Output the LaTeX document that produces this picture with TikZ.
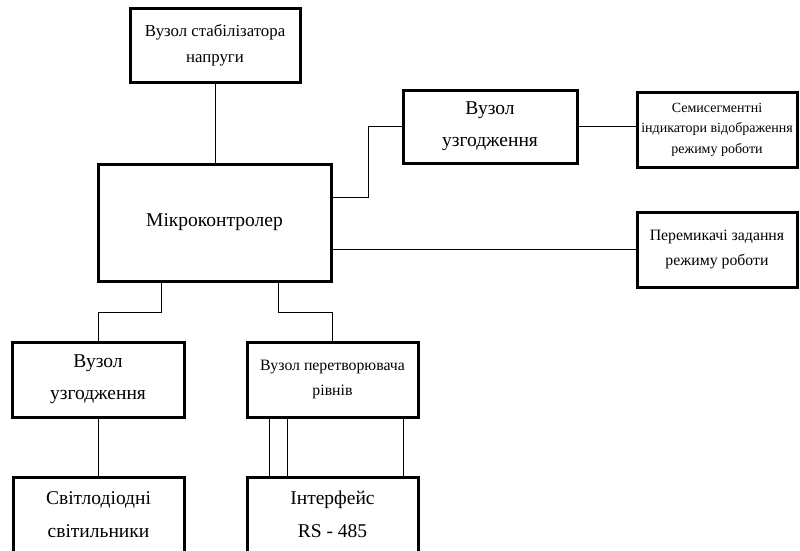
\documentclass[tikz,border=0pt]{standalone}
\usepackage{fontspec}
\setmainfont{Liberation Serif}
\usepackage{tikz}

\tikzset{
  blok/.style={draw, line width=3pt, align=center, inner sep=0pt},
  zv/.style={line width=0.9pt}
}

\begin{document}
\begin{tikzpicture}[x=1pt, y=-1pt]
        \clip (0,0) rectangle (800,550);
        \fill[white] (0,0) rectangle (800,550);

        \node [blok, minimum width=170, minimum height=74, font=\fontsize{16.8}{26}\selectfont] (stab) at (215,45) {Вузол стабілізатора\\напруги};
        \node [blok, minimum width=233, minimum height=117, font=\fontsize{19.5}{22}\selectfont] (micro) at (214.5,222.5) {Мікроконтролер};
        \node [blok, minimum width=174, minimum height=73, font=\fontsize{19.5}{32}\selectfont] (uzgR) at (490,126.5) {Вузол\\узгодження};
        \node [blok, minimum width=160, minimum height=75, font=\fontsize{14}{20.5}\selectfont] (semi) at (717,129.5) {Семисегментні\\індикатори відображення\\режиму роботи};
        \node [blok, minimum width=160, minimum height=75, font=\fontsize{15.8}{25}\selectfont] (perem) at (717,249.5) {Перемикачі задання\\режиму роботи};
        \node [blok, minimum width=172, minimum height=75, font=\fontsize{19.5}{32}\selectfont] (uzgL) at (98,379.5) {Вузол\\узгодження};
        \node [blok, minimum width=171, minimum height=75, font=\fontsize{15.8}{25}\selectfont] (peretv) at (332.5,379.5) {Вузол перетворювача\\рівнів};
        \node [blok, minimum width=171, minimum height=75, font=\fontsize{19.5}{33}\selectfont] (svitlo) at (98.5,514.5) {Світлодіодні\\світильники};
        \node [blok, minimum width=171, minimum height=75, font=\fontsize{19.5}{33}\selectfont] (iface) at (332.5,514.5) {Інтерфейс\\RS - 485};

        \coordinate (j1) at (368,197);
        \coordinate (j2) at (161,312);
        \coordinate (j3) at (278,312);

        \draw [zv] (stab.south) -- (stab.south |- micro.north);
        \draw [zv] (j1 -| micro.east) -- (j1) |- (uzgR.west);
        \draw [zv] (uzgR.east) -- (uzgR.east -| semi.west);
        \draw [zv] (micro.east |- perem.west) -- (perem.west);
        \draw [zv] (j2 |- micro.south) -- (j2) -| (uzgL.north);
        \draw [zv] (j3 |- micro.south) -- (j3) -| (peretv.north);
        \draw [zv] (uzgL.south) -- (uzgL.south |- svitlo.north);
        \foreach \x in {269,287,403}
            \draw [zv] (\x,0 |- peretv.south) -- (\x,0 |- iface.north);
    \end{tikzpicture}
\end{document}
